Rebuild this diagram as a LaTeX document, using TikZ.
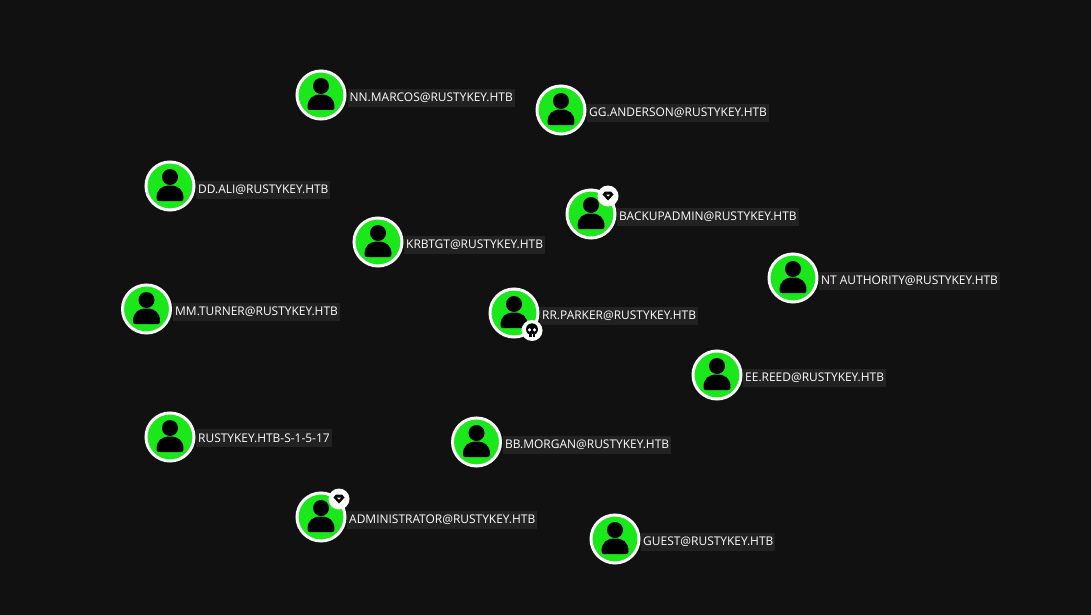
\documentclass[tikz,border=0pt]{standalone}
\usepackage{fontspec}
\setmainfont{Open Sans}
\usetikzlibrary{positioning}
\definecolor{canvas}{HTML}{111111}
\definecolor{tagbg}{HTML}{222222}
\definecolor{usergreen}{HTML}{1AE81A}
\definecolor{tagtext}{HTML}{FFFFFF}
\tikzset{
  user/.style={circle,draw=white,line width=3pt,fill=usergreen,minimum size=48pt,inner sep=0pt},
  tag/.style={fill=tagbg,text=tagtext,font=\fontsize{11.95pt}{13pt}\selectfont,inner sep=2pt,minimum height=18pt,anchor=west},
  badge/.style={circle,fill=white,minimum size=21pt,inner sep=0pt},
  pics/person/.style={code={
    \fill[black] (0,-9) circle (8);
    \fill[black] (-13.5,12.5) .. controls (-13.5,3) and (-8,-0.5) .. (0,-0.5)
      .. controls (8,-0.5) and (13.5,3) .. (13.5,12.5)
      .. controls (13.5,14.5) and (12.5,15) .. (11,15) -- (-11,15)
      .. controls (-12.5,15) and (-13.5,14.5) .. (-13.5,12.5) -- cycle;
  }},
  pics/gem/.style={code={
    \fill[black] (-5.5,-1.5) -- (-3,-4.5) -- (3,-4.5) -- (5.5,-1.5) -- (0,4.5) -- cycle;
    \fill[white] (-2,-1.5) -- (2,-1.5) -- (0,0.5) -- cycle;
  }},
  pics/skull/.style={code={
    \fill[black] (0,-1.2) circle (6);
    \fill[black] (-3.4,2) rectangle (3.4,6);
    \fill[white] (-2.5,-0.6) circle (1.7) (2.5,-0.6) circle (1.7);
    \fill[white] (-0.4,3.5) rectangle (0.4,6);
  }},
}
\begin{document}
\begin{tikzpicture}[x=1pt,y=-1pt]
  \fill[canvas] (0,0) rectangle (1091,615);

  % users
  \path
  (321,95) node[user](marcos) {}
  (561,110) node[user](anderson) {}
  (170,186) node[user](ali) {}
  (591,214) node[user](backup) {}
  (378,242) node[user](krbtgt) {}
  (793,278) node[user](ntauth) {}
  (146.5,309) node[user](turner) {}
  (514,313) node[user](parker) {}
  (717,375) node[user](reed) {}
  (170,437) node[user](sid) {}
  (476.5,442) node[user](morgan) {}
  (321,517) node[user](admin) {}
  (615,539) node[user](guest) {}
  ;

  \foreach \n in {marcos,anderson,ali,backup,krbtgt,ntauth,turner,parker,reed,sid,morgan,admin,guest}
    \path (\n) pic {person};

  % names
  \path
  (347.5,98) node[tag](marcosl) {NN.MARCOS@RUSTYKEY.HTB}
  (587,113) node[tag](andersonl) {GG.ANDERSON@RUSTYKEY.HTB}
  (196,190) node[tag](alil) {DD.ALI@RUSTYKEY.HTB}
  (617,217) node[tag](backupl) {BACKUPADMIN@RUSTYKEY.HTB}
  (404,245) node[tag](krbtgtl) {KRBTGT@RUSTYKEY.HTB}
  (819,281) node[tag](ntauthl) {NT AUTHORITY@RUSTYKEY.HTB}
  (173,312) node[tag](turnerl) {MM.TURNER@RUSTYKEY.HTB}
  (540,316) node[tag](parkerl) {RR.PARKER@RUSTYKEY.HTB}
  (743,378) node[tag](reedl) {EE.REED@RUSTYKEY.HTB}
  (196,438) node[tag](sidl) {RUSTYKEY.HTB-S-1-5-17}
  (503,445) node[tag](morganl) {BB.MORGAN@RUSTYKEY.HTB}
  (347,520) node[tag](adminl) {ADMINISTRATOR@RUSTYKEY.HTB}
  (641,542) node[tag](guestl) {GUEST@RUSTYKEY.HTB}
  ;

  % badges
  \path
  (608,196) node[badge](backupb) {}
  (532,330.5) node[badge](parkerb) {}
  (339,499) node[badge](adminb) {}
  ;
  \path (backupb) pic {gem};
  \path (adminb) pic {gem};
  \path (parkerb) pic {skull};
\end{tikzpicture}
\end{document}
